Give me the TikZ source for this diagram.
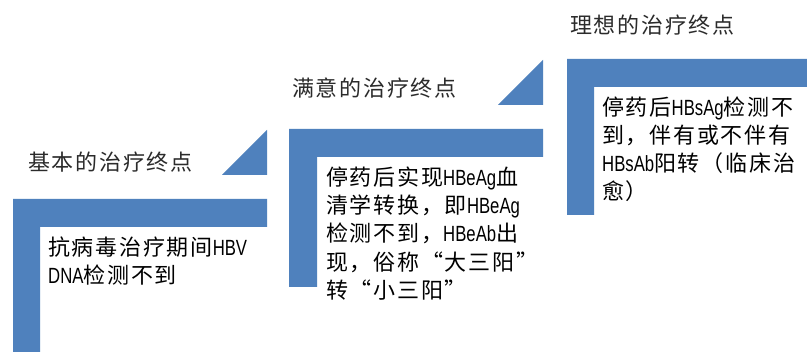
\documentclass[tikz,border=0pt]{standalone}
\usepackage{fontspec}
\newfontfamily\cjk[LetterSpace=8]{Noto Sans CJK SC}
\newfontfamily\latfont[FakeStretch=0.76]{Liberation Sans}
\newcommand\LT[1]{{\latfont #1}}
\definecolor{stepblue}{HTML}{4F81BD}
\definecolor{titlegray}{HTML}{2B2B2B}
\begin{document}
\begin{tikzpicture}[x=1pt,y=-1pt,
  band/.style={fill=stepblue, draw=none},
  txt/.style={anchor=base west, inner sep=0pt, font=\cjk\fontsize{22pt}{28pt}\selectfont, text=black},
  ttl/.style={txt, text=titlegray}]
\useasboundingbox (0,0) rectangle (807,352);
\fill[white] (0,0) rectangle (807,352);
% step 1
\fill[band] (13,199) -- (267,199) -- (267,227) -- (40,227) -- (40,352) -- (13,352) -- cycle;
\fill[band] (222,175) -- (267,175) -- (267,130) -- cycle;
% step 2
\fill[band] (289,129) -- (543,129) -- (543,157) -- (317,157) -- (317,287) -- (289,287) -- cycle;
\fill[band] (498,105) -- (543,105) -- (543,60) -- cycle;
% step 3
\fill[band] (567,59) -- (807,59) -- (807,87) -- (594,87) -- (594,215) -- (567,215) -- cycle;
% titles
\node[ttl] (t1) at (28,170.4) {基本的治疗终点};
\node[ttl] (t2) at (292,96.4) {满意的治疗终点};
\node[ttl] (t3) at (570,33.4) {理想的治疗终点};
% box 1
\node[txt] (a1) at (48,255.4) {抗病毒治疗期间\LT{HBV}};
\node[txt] (a2) at (48,283.4) {\LT{DNA}检测不到};
% box 2
\node[txt] (b1) at (326,185.4) {停药后实现\LT{HBeAg}血};
\node[txt] (b2) at (326,213.6) {清学转换，即\LT{HBeAg}};
\node[txt] (b3) at (326,241.9) {检测不到，\LT{HBeAb}出};
\node[txt] (b4) at (326,270.1) {现，俗称“大三阳”};
\node[txt] (b5) at (326,298.4) {转“小三阳”};
% box 3
\node[txt] (c1) at (602,115.4) {停药后\LT{HBsAg}检测不};
\node[txt] (c2) at (602,143.4) {到，伴有或不伴有};
\node[txt] (c3) at (602,171.4) {\LT{HBsAb}阳转（临床治};
\node[txt] (c4) at (602,199.4) {愈）};
\end{tikzpicture}
\end{document}
